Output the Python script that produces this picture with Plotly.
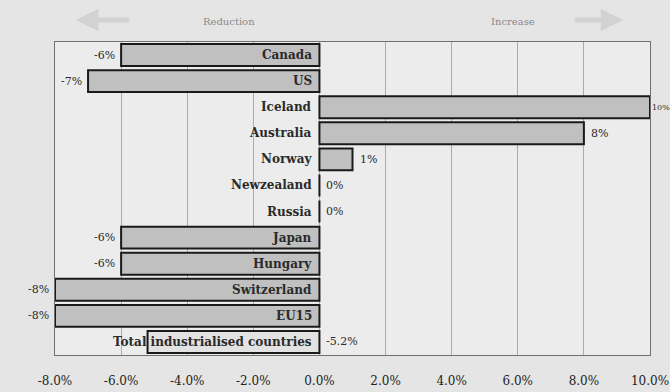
import plotly.graph_objects as go

categories = ["Canada", "US", "Iceland", "Australia", "Norway", "Newzealand", "Russia",
              "Japan", "Hungary", "Switzerland", "EU15", "Total industrialised countries"]
values = [-6, -7, 10, 8, 1, 0, 0, -6, -6, -8, -8, -5.2]
value_labels = ["-6%", "-7%", "10%", "8%", "1%", "0%", "0%", "-6%", "-6%", "-8%", "-8%", "-5.2%"]
tick_vals = [-8, -6, -4, -2, 0, 2, 4, 6, 8, 10]
tick_text = ["-8.0%", "-6.0%", "-4.0%", "-2.0%", "0.0%", "2.0%", "4.0%", "6.0%", "8.0%", "10.0%"]

SERIF = "DejaVu Serif"
X_MAX = 10
fills = ["#e2e2e2" if c.startswith("Total") else "#c0c0c0" for c in categories]

fig = go.Figure()
fig.add_trace(go.Bar(
    y=categories, x=values, orientation="h",
    marker=dict(color=fills, line=dict(color="#1a1a1a", width=2)),
    width=0.84, hoverinfo="skip",
))

annotations = []
for c, v, lab in zip(categories, values, value_labels):
    annotations.append(dict(x=0, y=c, xref="x", yref="y", text=f"<b>{c}</b>",
                            showarrow=False, xanchor="right", xshift=-5,
                            font=dict(family=SERIF, size=12, color="#2a2a2a")))
    if v < 0 and not c.startswith("Total"):
        annotations.append(dict(x=v, y=c, xref="x", yref="y", text=lab, showarrow=False,
                                xanchor="right", xshift=-4,
                                font=dict(family=SERIF, size=11, color="#2a2a2a")))
    else:
        at_edge = v >= X_MAX
        annotations.append(dict(x=max(v, 0), y=c, xref="x", yref="y", text=lab, showarrow=False,
                                xanchor="left", xshift=0 if at_edge else 5,
                                font=dict(family=SERIF, size=8 if at_edge else 11,
                                          color="#2a2a2a")))

annotations += [
    dict(x=0.035, y=1.07, xref="paper", yref="paper", ax=55, ay=0, text="", showarrow=True,
         arrowhead=2, arrowsize=0.9, arrowwidth=5, arrowcolor="#d2d2d2"),
    dict(x=0.245, y=1.09, xref="paper", yref="paper", text="Reduction", showarrow=False,
         font=dict(family=SERIF, size=10, color="#8a8a8a")),
    dict(x=0.955, y=1.07, xref="paper", yref="paper", ax=-50, ay=0, text="", showarrow=True,
         arrowhead=2, arrowsize=0.9, arrowwidth=5, arrowcolor="#d2d2d2"),
    dict(x=0.81, y=1.09, xref="paper", yref="paper", text="Increase", showarrow=False,
         font=dict(family=SERIF, size=10, color="#8a8a8a")),
]

fig.update_layout(
    width=670, height=392,
    margin=dict(l=55, r=20, t=42, b=37),
    paper_bgcolor="#e5e5e5", plot_bgcolor="#ececec",
    showlegend=False,
    xaxis=dict(range=[-8, X_MAX], tickvals=tick_vals, ticktext=tick_text, automargin=False,
               showgrid=True, gridcolor="#ababab", gridwidth=1, zeroline=False,
               showline=True, mirror=True, linecolor="#707070", linewidth=1,
               ticks="", ticklabelstandoff=15,
               tickfont=dict(family=SERIF, size=12, color="#222222"), fixedrange=True),
    yaxis=dict(autorange=False, range=[len(categories) - 0.5, -0.5], showticklabels=False,
               automargin=False,
               showgrid=False, zeroline=False, showline=True, mirror=True,
               linecolor="#707070", linewidth=1, ticks="", fixedrange=True),
    annotations=annotations,
)

fig.write_html("out.html")
